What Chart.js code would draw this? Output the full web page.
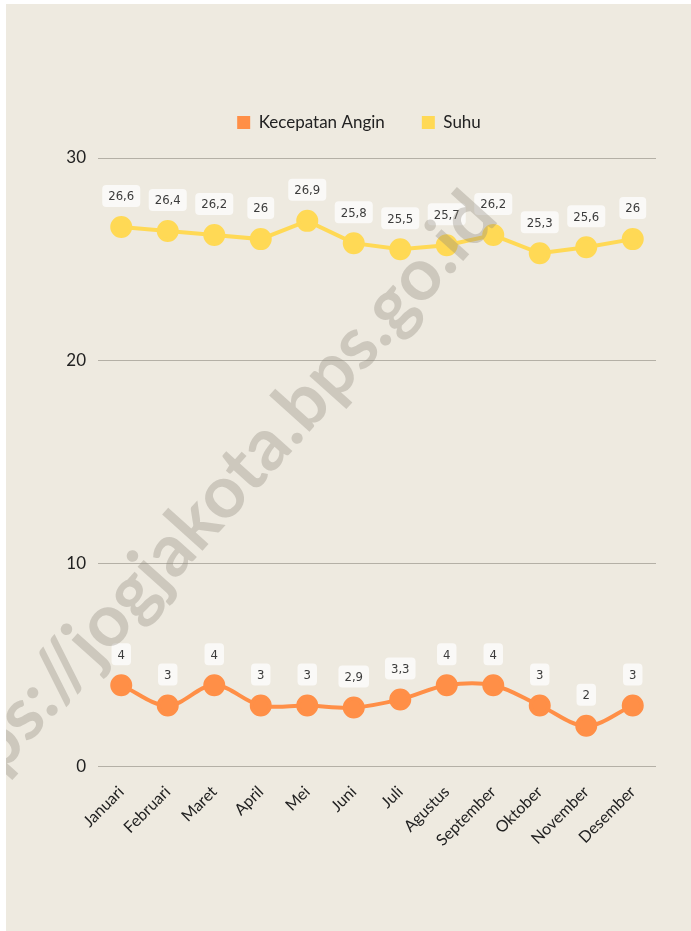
<!DOCTYPE html>
<html>
<head>
<meta charset="utf-8">
<script src="https://cdn.jsdelivr.net/npm/chart.js@4"></script>
<style>
  html, body { margin: 0; padding: 0; background: #ffffff; }
  .panel {
    position: absolute; left: 6px; top: 4px; width: 685px; height: 927px;
    background: #eeeae0;
  }
</style>
</head>
<body>
<div class="panel"><canvas id="chart" width="685" height="927"></canvas></div>
<script>
const months = ["Januari", "Februari", "Maret", "April", "Mei", "Juni", "Juli",
  "Agustus", "September", "Oktober", "November", "Desember"];
const windSpeed = [4, 3, 4, 3, 3, 2.9, 3.3, 4, 4, 3, 2, 3];
const temperature = [26.6, 26.4, 26.2, 26, 26.9, 25.8, 25.5, 25.7, 26.2, 25.3, 25.6, 26];
const yTicks = [0, 10, 20, 30];

// labels above each point, like the datalabels plugin would do
const pointLabels = {
  id: "pointLabels",
  afterDatasetsDraw(chart) {
    const ctx = chart.ctx;
    ctx.save();
    ctx.font = "13px 'DejaVu Sans Condensed', 'Roboto', sans-serif";
    ctx.textAlign = "center";
    ctx.textBaseline = "middle";
    chart.data.datasets.forEach((ds, i) => {
      chart.getDatasetMeta(i).data.forEach((pt, j) => {
        const text = String(ds.data[j]).replace(".", ",");
        const w = ctx.measureText(text).width + 12;
        const h = 22;
        const x = pt.x;
        const y = pt.y - 31;
        ctx.fillStyle = "rgba(255,255,255,0.72)";
        ctx.beginPath();
        ctx.roundRect(x - w / 2, y - h / 2, w, h, 4);
        ctx.fill();
        ctx.fillStyle = "#3c3c3c";
        ctx.fillText(text, x, y + 1);
      });
    });
    ctx.restore();
  }
};

// site watermark across the chart
const watermark = {
  id: "watermark",
  afterDraw(chart) {
    const ctx = chart.ctx;
    ctx.save();
    ctx.translate(196, 512);
    ctx.rotate(-48 * Math.PI / 180);
    ctx.font = "bold 73px 'Lato', sans-serif";
    ctx.fillStyle = "rgba(140,134,124,0.34)";
    ctx.textAlign = "center";
    ctx.textBaseline = "middle";
    ctx.fillText("https://jogjakota.bps.go.id", 0, 0);
    ctx.restore();
  }
};

// extra space under the legend, and nudge it right over the plot
const legendTweak = {
  id: "legendTweak",
  beforeInit(chart) {
    const legend = chart.legend;
    const fit = legend.fit;
    legend.fit = function () {
      fit.call(this);
      this.height += 17;
    };
    const draw = legend.draw;
    legend.draw = function () {
      this.ctx.save();
      this.ctx.translate(28, 0);
      draw.call(this);
      this.ctx.restore();
    };
  }
};

new Chart(document.getElementById("chart"), {
  type: "line",
  data: {
    labels: months,
    datasets: [
      {
        label: "Kecepatan Angin",
        data: windSpeed,
        borderColor: "#ff8f47",
        backgroundColor: "#ff8f47",
        borderWidth: 4,
        pointRadius: 9,
        pointHoverRadius: 9,
        tension: 0.35
      },
      {
        label: "Suhu",
        data: temperature,
        borderColor: "#ffd955",
        backgroundColor: "#ffd955",
        borderWidth: 4,
        pointRadius: 9,
        pointHoverRadius: 9,
        tension: 0
      }
    ]
  },
  options: {
    responsive: false,
    animation: false,
    layout: { padding: { top: 73, right: 35, bottom: 73, left: 0 } },
    plugins: {
      legend: {
        position: "top",
        labels: {
          boxWidth: 13,
          boxHeight: 13,
          padding: 37,
          color: "#222",
          font: { family: "Lato", size: 17 },
          generateLabels(chart) {
            const items = Chart.defaults.plugins.legend.labels.generateLabels(chart);
            items.forEach(it => { it.lineWidth = 0; });
            return items;
          }
        }
      },
      tooltip: { enabled: false }
    },
    scales: {
      x: {
        offset: true,
        grid: { display: false },
        border: { display: false },
        ticks: {
          color: "#222",
          padding: 8,
          maxRotation: 45,
          minRotation: 45,
          font: { family: "Lato", size: 16 }
        }
      },
      y: {
        min: 0,
        max: 30,
        afterBuildTicks: (axis) => { axis.ticks = yTicks.map(v => ({ value: v })); },
        afterFit: (axis) => { axis.width = 92; },
        grid: { color: "#b4b0a6", lineWidth: 1, drawTicks: false },
        border: { display: false },
        ticks: {
          color: "#222",
          padding: 12,
          font: { family: "Lato", size: 17 }
        }
      }
    }
  },
  plugins: [pointLabels, watermark, legendTweak]
});
</script>
</body>
</html>
